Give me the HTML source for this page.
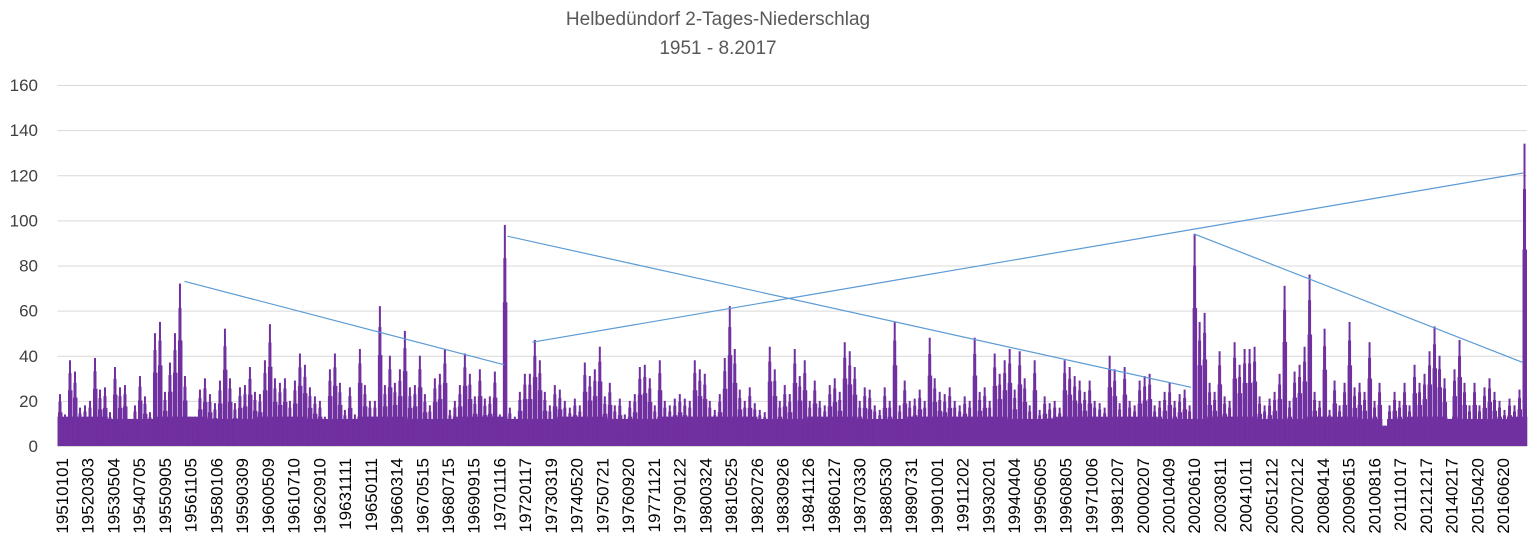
<!DOCTYPE html>
<html><head><meta charset="utf-8"><style>
html,body{margin:0;padding:0;background:#fff;}
svg{display:block;font-family:"Liberation Sans",sans-serif;}
</style></head><body>
<svg id="chart" width="1536" height="548" viewBox="0 0 1536 548">
<text x="718" y="25" text-anchor="middle" font-size="19" fill="#595959">Helbedündorf 2-Tages-Niederschlag</text>
<text x="718" y="54" text-anchor="middle" font-size="19" fill="#595959">1951 - 8.2017</text>
<g id="grid"></g>
<g id="ylab"></g>
<g id="bars"></g>
<g id="trend"></g>
<g id="xlab"></g>
</svg>
<script>
const yTicks = [0,20,40,60,80,100,120,140,160];
const xLabels = ["19510101","19520303","19530504","19540705","19550905","19561105","19580106","19590309","19600509","19610710","19620910","19631111","19650111","19660314","19670515","19680715","19690915","19701116","19720117","19730319","19740520","19750721","19760920","19771121","19790122","19800324","19810525","19820726","19830926","19841126","19860127","19870330","19880530","19890731","19901001","19911202","19930201","19940404","19950605","19960805","19971006","19981207","20000207","20010409","20020610","20030811","20041011","20051212","20070212","20080414","20090615","20100816","20111017","20121217","20140217","20150420","20160620"];
// max 2-day precipitation per block (~83 days)
const blockMax = [23,14,38,33,17,18,20,39,25,26,15,35,26,27,12,18,31,22,15,50,55,24,37,50,72,31,13,13,25,30,23,19,29,52,30,19,26,27,35,24,23,38,54,30,28,30,20,29,41,36,26,22,20,13,34,41,28,16,26,14,43,27,20,20,62,27,40,28,34,51,26,27,40,23,18,30,32,43,16,20,27,41,32,22,34,21,22,33,14,98,17,13,24,32,32,47,38,24,18,27,25,20,17,21,18,37,31,34,44,22,28,18,21,14,20,23,35,36,30,18,38,20,18,21,23,21,20,38,34,32,20,16,23,39,62,43,25,20,26,19,16,15,44,34,20,27,23,43,31,38,20,29,20,18,27,30,24,46,42,35,20,26,25,18,16,26,20,55,18,29,20,21,25,20,48,30,24,23,26,20,18,22,20,48,24,26,20,41,32,38,43,25,42,30,18,38,16,22,19,20,17,38,35,31,29,24,29,20,19,17,40,34,19,35,20,18,29,31,32,18,20,24,28,20,23,25,18,94,55,59,28,24,42,22,20,46,36,43,43,44,22,18,21,24,32,71,20,33,36,44,76,24,20,52,16,29,18,28,55,26,28,24,46,20,28,9,18,24,20,28,18,36,28,32,42,53,40,30,12,34,47,28,18,28,18,26,30,24,20,16,21,18,25,134];
// typical base level per 10 blocks
const baseLevel = [13,12,13,12,13,12,13,12,13,12,13,12,13,13,12,13,12,13,13,12,13,13,12,13,12,13,12,13,12,13];
// trend segments (block index, value)
const trendX1 = [25.4, 90, 95, 227.4];
const trendY1 = [73, 93, 46, 94];
const trendX2 = [89.4, 226.8, 293.2, 293.2];
const trendY2 = [36, 26, 121, 37];

const NS="http://www.w3.org/2000/svg";
const L=57.5, R=1527, Y0=446, Y160=85;
const yS=v=>Y0-(v/160)*(Y0-Y160);
const bw=(R-L)/blockMax.length;
const xS=i=>L+i*bw;
function mk(t,a){const e=document.createElementNS(NS,t);for(const k in a)e.setAttribute(k,a[k]);return e;}
const grid=document.getElementById('grid'),ylab=document.getElementById('ylab');
yTicks.forEach(v=>{
  const ln=mk('line',{x1:L,x2:R,y1:yS(v)+0.5,y2:yS(v)+0.5,stroke:'#d9d9d9','stroke-width':1});
  
  
  grid.appendChild(ln);
  const t=mk('text',{x:38,y:yS(v)+6,'text-anchor':'end','font-size':17,fill:'#404040'});
  t.textContent=v;
  
  
  ylab.appendChild(t);
});
const bars=document.getElementById('bars');
blockMax.forEach((v,i)=>{
  const b=Math.min(baseLevel[Math.floor(i/10)],v);
  const r1=mk('rect',{x:xS(i),y:yS(b),width:bw+0.3,height:Y0-yS(b),fill:'#7030a0'});
  
  
  bars.appendChild(r1);
  const r0=mk('rect',{x:xS(i)+0.5,y:yS(v*0.65),width:bw-0.5,height:Y0-yS(v*0.65),fill:'#7030a0'});
  
  
  bars.appendChild(r0);
  const r2=mk('rect',{x:xS(i)+1,y:yS(v*0.85),width:3,height:Y0-yS(v*0.85),fill:'#7030a0'});
  
  
  bars.appendChild(r2);
  const r3=mk('rect',{x:xS(i)+1.5,y:yS(v),width:2,height:Y0-yS(v),fill:'#7030a0'});
  
  
  bars.appendChild(r3);
});
const tr=document.getElementById('trend');
trendX1.forEach((x,i)=>{
  const ln=mk('line',{x1:xS(x),y1:yS(trendY1[i]),x2:xS(trendX2[i]),y2:yS(trendY2[i]),stroke:'#5b9bd5','stroke-width':1.2});
  
  
  tr.appendChild(ln);
});
const xl=document.getElementById('xlab');
const step=(1503-62)/(xLabels.length-1);
xLabels.forEach((s,i)=>{
  const cx=62+i*step+6;
  const t=mk('text',{x:cx,y:458,'text-anchor':'end','font-size':17,fill:'#000',transform:`rotate(-90 ${cx} 458)`});
  t.textContent=s;
  
  
  xl.appendChild(t);
});
</script>
</body></html>
